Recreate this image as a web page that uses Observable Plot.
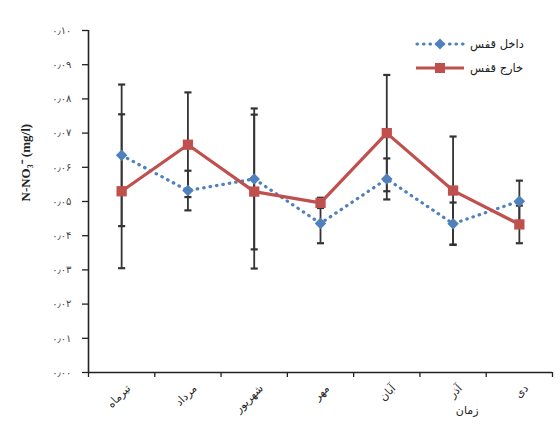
<!DOCTYPE html>
<html>
<head>
<meta charset="utf-8">
<script src="https://cdn.jsdelivr.net/npm/d3@7"></script>
<script src="https://cdn.jsdelivr.net/npm/@observablehq/plot@0.6"></script>
<style>
  body { margin: 0; background: #fff; }
  #wrap { position: relative; width: 560px; height: 430px; font-family: "DejaVu Sans", sans-serif; }
  #legend { position: absolute; left: 414px; top: 32px; font-size: 11.5px; color: #222; }
  .row { display: flex; align-items: center; height: 24px; }
  .row span { margin-left: 4px; direction: rtl; }
</style>
</head>
<body>
<div id="wrap"></div>
<script>
// ---- data ----
const months = ["تیرماه", "مرداد", "شهریور", "مهر", "آبان", "آذر", "دی"];
const seriesNames = ["داخل قفس", "خارج قفس"];
const insideMean = [0.0635, 0.0532, 0.0566, 0.0436, 0.0566, 0.0435, 0.0501];
const insideErr  = [0.0207, 0.0058, 0.0206, 0.0058, 0.0060, 0.0062, 0.0060];
const outsideMean = [0.0530, 0.0666, 0.0529, 0.0496, 0.0700, 0.0532, 0.0433];
const outsideErr  = [0.0225, 0.0153, 0.0225, 0.0015, 0.0170, 0.0158, 0.0055];
const yTicks = [0, 0.01, 0.02, 0.03, 0.04, 0.05, 0.06, 0.07, 0.08, 0.09, 0.10];
const yTickLabels = ["۰٫۰۰", "۰٫۰۱", "۰٫۰۲", "۰٫۰۳", "۰٫۰۴", "۰٫۰۵", "۰٫۰۶", "۰٫۰۷", "۰٫۰۸", "۰٫۰۹", "۰٫۱۰"];
const xTitle = "زمان";
const yTitle = "N-NO₃⁻ (mg/l)";

// ---- build ----
const blue = "#4f81bd", red = "#c0504d", barColor = "#333";
const inside = months.map((m, i) => ({x: i + 1, mean: insideMean[i], err: insideErr[i]}));
const outside = months.map((m, i) => ({x: i + 1, mean: outsideMean[i], err: outsideErr[i]}));
const all = inside.concat(outside);
const caps = all.flatMap(d => [{x: d.x, y: d.mean - d.err}, {x: d.x, y: d.mean + d.err}]);
const centers = months.map((m, i) => i + 1);
const bounds = months.map((m, i) => i + 0.5).concat([months.length + 0.5]);

const capSymbol = {draw(ctx, size) { const w = Math.sqrt(size) / 2; ctx.moveTo(-w, 0); ctx.lineTo(w, 0); }};
const diamond = {draw(ctx, size) { const h = Math.sqrt(size / 2); ctx.moveTo(0, -h); ctx.lineTo(h, 0); ctx.lineTo(0, h); ctx.lineTo(-h, 0); ctx.closePath(); }};

const chart = Plot.plot({
  width: 560, height: 430,
  marginLeft: 88, marginRight: 8, marginTop: 30, marginBottom: 58,
  style: {fontFamily: "DejaVu Sans, sans-serif", background: "transparent", color: "#333"},
  x: {domain: [0.5, months.length + 0.5]},
  y: {domain: [0, 0.1]},
  marks: [
    Plot.axisY({ticks: yTicks, tickFormat: d => yTickLabels[yTicks.indexOf(d)], tickSize: 6, tickPadding: 11, label: null, fontSize: 10, stroke: "#222", strokeWidth: 1.3, fill: "#444"}),
    Plot.axisX({ticks: bounds, tickFormat: () => "", tickSize: 5, label: null, stroke: "#222", strokeWidth: 1.3}),
    Plot.axisX({ticks: centers, tickFormat: d => months[d - 1], tickSize: 0, tickPadding: 14, tickRotate: -45, dx: 7, label: null, fontSize: 11, fill: "#222"}),
    Plot.ruleX([0.5], {stroke: "#222", strokeWidth: 1.6}),
    Plot.ruleY([0], {stroke: "#222", strokeWidth: 1.6}),
    Plot.ruleX(all, {x: "x", y1: d => d.mean - d.err, y2: d => d.mean + d.err, stroke: barColor, strokeWidth: 1.8}),
    Plot.dot(caps, {x: "x", y: "y", symbol: capSymbol, r: 4, stroke: barColor, strokeWidth: 2.2, fill: "none"}),
    Plot.line(inside, {x: "x", y: "mean", stroke: blue, strokeWidth: 3.2, strokeDasharray: "0.5 6", strokeLinecap: "round"}),
    Plot.line(outside, {x: "x", y: "mean", stroke: red, strokeWidth: 3.2}),
    Plot.dot(inside, {x: "x", y: "mean", symbol: diamond, r: 4.6, fill: blue, stroke: "none"}),
    Plot.dot(outside, {x: "x", y: "mean", symbol: "square", r: 5.8, fill: red, stroke: "none"}),
    Plot.text([yTitle], {frameAnchor: "left", dx: -63, rotate: -90, text: d => d, fontSize: 13, fontWeight: "bold", fontFamily: "Liberation Serif, serif", fill: "#222"}),
    Plot.text([xTitle], {frameAnchor: "bottom-right", dx: -74, dy: 41, text: d => d, fontSize: 11, fill: "#222"})
  ]
});
document.getElementById("wrap").appendChild(chart);

// ---- legend ----
const legend = document.createElement("div");
legend.id = "legend";
legend.innerHTML = `
  <div class="row"><svg width="52" height="14"><line x1="3" y1="7" x2="49" y2="7" stroke="${blue}" stroke-width="3.2" stroke-dasharray="0.5 6" stroke-linecap="round"/><path d="M26,1.5 L31.5,7 L26,12.5 L20.5,7Z" fill="${blue}"/></svg><span>${seriesNames[0]}</span></div>
  <div class="row"><svg width="52" height="14"><line x1="2" y1="7" x2="50" y2="7" stroke="${red}" stroke-width="3.2"/><rect x="21" y="2" width="10" height="10" fill="${red}"/></svg><span>${seriesNames[1]}</span></div>`;
document.getElementById("wrap").appendChild(legend);
</script>
</body>
</html>
